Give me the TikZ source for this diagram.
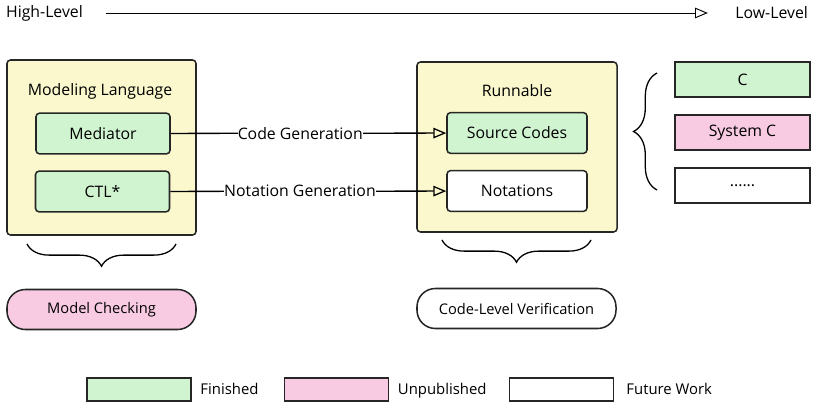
\documentclass[tikz,border=0pt]{standalone}
\usepackage{fontspec}
\setmainfont{Open Sans}
\usetikzlibrary{arrows.meta, decorations.pathreplacing, positioning}

\begin{document}
\begin{tikzpicture}[
  x=0.03cm, y=-0.03cm,
  font=\fontsize{13.5}{16}\selectfont,
  % ---- styles ----
  stage/.style 2 args={%
    draw=black!85, line width=1.3pt, fill=Cy, rounded corners=3pt,
    minimum width=#1, minimum height=#2, inner sep=0pt,
  },
  item/.style 2 args={%
    draw=black!85, line width=1.3pt, fill=#1, rounded corners=3pt,
    minimum width=#2, minimum height=1.22cm, inner sep=0pt,
  },
  target/.style={%
    draw=black!85, line width=1.3pt, fill=#1, minimum width=4.05cm,
    minimum height=1.05cm, inner sep=0pt,
  },
  goal/.style 2 args={%
    draw=black!85, line width=1.3pt, fill=#1, rounded corners=0.55cm,
    minimum width=#2, minimum height=1.2cm, inner sep=0pt,
    font=\fontsize{12.5}{15}\selectfont,
  },
  key/.style={%
    draw=black!85, line width=1.1pt, fill=#1, minimum width=3.12cm,
    minimum height=0.69cm, inner sep=0pt,
  },
  keytext/.style={anchor=west, text height=1.6ex, text depth=0.4ex,
    font=\fontsize{12.7}{15}\selectfont},
  gen/.style={%
    line width=1.1pt, -{Triangle[open, length=11pt, width=9pt]},
  },
  brc/.style={%
    line width=1.1pt, decorate, decoration={brace, amplitude=#1},
  },
]

% ---- colour palette ----
\definecolor{Cy}{HTML}{FAF8CC}            % stage background
\definecolor{Cg}{HTML}{D0F4D0}            % finished
\definecolor{Cp}{HTML}{F8CBE3}            % unpublished

\useasboundingbox (0,0) rectangle (813,404);

% =========================================================
% abstraction axis
% =========================================================
\node[anchor=west] (hi) at (2,13)   {High-Level};
\node[anchor=east] (lo) at (812,13) {Low-Level};
\draw[gen, line width=0.8pt, shorten <=16pt, shorten >=20pt] (hi) -- (lo);

% =========================================================
% modeling language
% =========================================================
\node[stage={5.67cm}{5.25cm}] (ml) at (101.5,147.5) {};
\node (mlt) at (100,91) {Modeling Language};
\node[item={Cg}{4.02cm}] (med) at (103,133.5) {Mediator};
\node[item={Cg}{4.02cm}] (ctl) at (102.5,191.5) {CTL*};

% =========================================================
% runnable
% =========================================================
\node[stage={6.0cm}{5.1cm}] (run) at (517,147) {};
\node (runt) at (517,91) {Runnable};
\node[item={Cg}{4.2cm}]    (src) at (517,133) {Source Codes};
\node[item={white}{4.2cm}] (not) at (517,191) {Notations};

% generation steps
\draw[gen] (med) -- (src)
  node[pos=0.47, fill=white, inner sep=0pt] {Code Generation};
\draw[gen] (ctl) -- (not)
  node[pos=0.47, fill=white, inner sep=0pt] {Notation Generation};

% =========================================================
% target languages
% =========================================================
\node[target=Cg]    (tc)   at (742.5,79.5)  {C};
\node[target=Cp]    (tsc)  at (742.5,132.5) {System C};
\node[target=white] (tdot) at (742.5,185.5) {......};

\draw[brc=20pt] (657,190) -- (657,73);

% =========================================================
% verification
% =========================================================
\draw[brc=19pt, decoration={mirror}] (27,244) -- (176,244);
\draw[brc=19pt, decoration={mirror}] (442,240) -- (591,240);

\node[goal={Cp}{5.67cm}]    (mc)  at (101.5,309.5) {Model Checking};
\node[goal={white}{5.97cm}] (clv) at (516.5,308.5) {Code-Level Verification};

% =========================================================
% legend
% =========================================================
\node[key=Cg]    (kf) at (139,389.5)   {};
\node[keytext, right=4pt of kf, yshift=-1pt]  {Finished};
\node[key=Cp]    (ku) at (336.5,389.5) {};
\node[keytext, right=4pt of ku, yshift=-1pt]  {Unpublished};
\node[key=white] (kw) at (561.5,389.5) {};
\node[keytext, right=7pt of kw, yshift=-1pt] {Future Work};

\end{tikzpicture}
\end{document}
